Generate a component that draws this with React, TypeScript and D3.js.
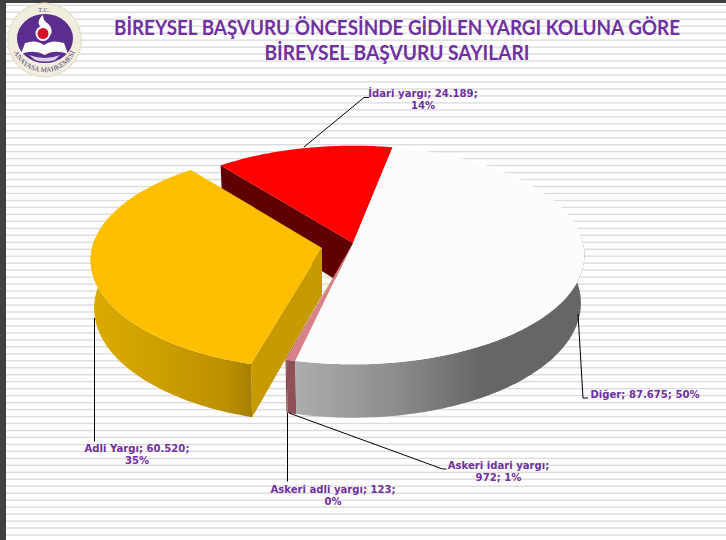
import React from "react";
import * as d3 from "d3";

const W = 726, H = 540;
const categories = ["Diğer", "Askeri idari yargı", "Askeri adli yargı", "Adli Yargı", "İdari yargı"];
const values = [87675, 972, 123, 60520, 24189];
const topColors = ["#fcfcfc", "#d9808a", "#a05058", "#fdbf00", "#ff0000"];
const explodeX = [0, 0, 0, -31, 0];
const explodeY = [0, 0, 0, 5, 0];
const startNudgeDeg = [0, 0, 0, 0.8, 0.5];
const endNudgeDeg = [0, 0, 0, 1, 0];
const titleLines = ["BİREYSEL BAŞVURU ÖNCESİNDE GİDİLEN YARGI KOLUNA GÖRE", "BİREYSEL BAŞVURU SAYILARI"];
const titleWidths = [566, 265];
const labelLines = [
  ["Diğer; 87.675; 50%"],
  ["Askeri idari yargı;", "972; 1%"],
  ["Askeri adli yargı; 123;", "0%"],
  ["Adli Yargı; 60.520;", "35%"],
  ["İdari yargı; 24.189;", "14%"],
];
const labelPos: [number, number][] = [[645, 394.2], [498.5, 465.2], [333, 489.5], [137, 448.5], [423, 93.5]];
const leaderPts: [number, number][][] = [
  [[578, 314], [583, 398], [588, 398]],
  [[289, 413], [442.5, 469], [446.5, 469]],
  [[287.5, 413], [287.5, 481.5]],
  [[94.5, 318], [94.5, 441.5]],
  [[304, 147], [364, 97.5], [369, 97.5]],
];

const cx = 353, cy = 243, rx = 230, ry = 108, persp = 0.11, depth = 47.5, baseInset = 0.985;
const startDeg = 11;

const rad = (d: number) => (d * Math.PI) / 180;
const pieGen = d3.pie<number>().sort(null).startAngle(rad(startDeg)).endAngle(rad(startDeg + 360));
const arcs = pieGen(values).map((a, i) => ({
  startAngle: a.startAngle + rad(startNudgeDeg[i]),
  endAngle: a.endAngle + rad(endNudgeDeg[i]),
}));

function proj(a: number, i: number, z = 0, r = 1): [number, number] {
  const u = Math.sin(a) * r, v = -Math.cos(a) * r;
  const k = 1 / (1 - persp * v);
  const sx = z ? baseInset : 1;
  return [cx + explodeX[i] + rx * sx * u * k, cy + explodeY[i] + ry * v * k + depth * k * (z ? 1 : 0)];
}
function sample(a0: number, a1: number, i: number, z = 0) {
  const n = Math.max(2, Math.ceil(Math.abs(a1 - a0) * 60));
  return d3.range(n + 1).map((j) => proj(a0 + ((a1 - a0) * j) / n, i, z));
}
const line = d3.line();
const closed = (pts: [number, number][]) => (line(pts) as string) + "Z";

function topFace(i: number) {
  const a = arcs[i];
  return closed([proj(0, i, 0, 0), ...sample(a.startAngle, a.endAngle, i)]);
}
function sideFace(i: number) {
  const a = arcs[i];
  const lo = Math.max(a.startAngle, rad(85)), hi = Math.min(a.endAngle, rad(275));
  return closed([...sample(lo, hi, i), ...sample(hi, lo, i, 1)]);
}
function cutFace(i: number, angle: number) {
  return closed([proj(0, i, 0, 0), proj(angle, i), proj(angle, i, 1), proj(0, i, 1, 0)]);
}

const lineY = d3.range(0, 78).map((n) => 4.6 + n * 6.97);

const Logo = () => (
  <g>
    <circle cx={44.5} cy={40} r={37.5} fill="#f1eee0" />
    <circle cx={44.5} cy={40} r={36.5} fill="none" stroke="#d6d0b4" strokeWidth={1.2} strokeDasharray="1.2 1.2" />
    <ellipse cx={45} cy={38.5} rx={28} ry={24.5} fill="#5b2d8e" />
    <path d="M43 15 C37 20 38 25 41 27 C38 29 36 31 36 34 C40 28 50 30 51 35 C53 29 50 25 47 23 C44 21 43 18 43 15Z" fill="#fff" />
    <circle cx={43} cy={33.5} r={7.5} fill="#fff" />
    <circle cx={43} cy={33.5} r={5.5} fill="#d8142a" />
    <path d="M21 54 L25 43 Q36 39 44 45 Q52 39 64 43 L68 54 Q54 49 45 55 Q34 49 21 54Z" fill="#fff" />
    <path d="M29 55 Q45 61 60 55 L55 60 Q45 63 35 60Z" fill="#d9d2e6" />
    <defs>
      <path id="logoArc" d="M13 50 A33.5 33.5 0 0 0 76 50" />
    </defs>
    <text fontFamily="'Liberation Serif', serif" fontSize={7} fill="#4a3a6a">
      <textPath href="#logoArc" startOffset="50%" textAnchor="middle">ANAYASA MAHKEMESİ</textPath>
    </text>
    <text x={44} y={12} textAnchor="middle" fontFamily="'Liberation Serif', serif" fontSize={7} fill="#5a4a6a">T.C.</text>
  </g>
);

export default function App() {
  return (
    <svg width={W} height={H} viewBox={`0 0 ${W} ${H}`} style={{ position: "absolute", left: 0, top: 0, background: "#fff" }}>
      <defs>
        <linearGradient id="whiteSide" gradientUnits="userSpaceOnUse" x1={295} x2={584} y1={0} y2={0}>
          <stop offset="0" stopColor="#adadad" />
          <stop offset="0.35" stopColor="#8c8c8c" />
          <stop offset="0.65" stopColor="#666666" />
          <stop offset="1" stopColor="#666666" />
        </linearGradient>
        <linearGradient id="yellowSide" gradientUnits="userSpaceOnUse" x1={90} x2={252} y1={0} y2={0}>
          <stop offset="0" stopColor="#dcab00" />
          <stop offset="0.5" stopColor="#cb9c00" />
          <stop offset="0.85" stopColor="#bb8f00" />
          <stop offset="1" stopColor="#a67f00" />
        </linearGradient>
      </defs>
      {lineY.map((y) => (
        <rect key={y} x={6} y={y} width={W - 6} height={1.4} fill="#dcdcdc" />
      ))}
      <rect x={0} y={0} width={6} height={H} fill="#404040" />
      <rect x={0} y={0} width={W} height={3} fill="#404040" />
      <Logo />
      {titleLines.map((t, i) => (
        <text key={t} x={397} y={35 + i * 25} textAnchor="middle" fontFamily="Lato, 'Noto Sans', sans-serif" fontWeight={700} fontSize={20} fill="#7030a0"
          textLength={titleWidths[i]} lengthAdjust="spacingAndGlyphs">{t}</text>
      ))}

      {/* İdari */}
      <path d={cutFace(4, arcs[4].startAngle)} fill="#600000" />
      <path d={topFace(4)} fill={topColors[4]} />
      {/* Askeri slices */}
      <path d={sideFace(2)} fill="#7d4048" />
      <path d={sideFace(1)} fill="#8f5058" />
      <path d={topFace(2)} fill={topColors[2]} />
      <path d={topFace(1)} fill={topColors[1]} />
      {/* Diğer */}
      <path d={sideFace(0)} fill="url(#whiteSide)" />
      <path d={topFace(0)} fill={topColors[0]} />
      {/* Adli */}
      <path d={cutFace(3, arcs[3].startAngle)} fill="#c89a00" />
      <path d={sideFace(3)} fill="url(#yellowSide)" />
      <path d={topFace(3)} fill={topColors[3]} />

      {leaderPts.map((p, i) => (
        <path key={categories[i]} d={line(p) as string} fill="none" stroke="#000" strokeWidth={1} />
      ))}
      {labelLines.map((lines, i) =>
        lines.map((t, j) => (
          <text key={t} x={labelPos[i][0]} y={labelPos[i][1] + j * 12 + 3.5} textAnchor="middle" fontFamily="'DejaVu Sans', sans-serif" fontWeight={700} fontSize={10.1} fill="#7030a0">{t}</text>
        ))
      )}
    </svg>
  );
}
